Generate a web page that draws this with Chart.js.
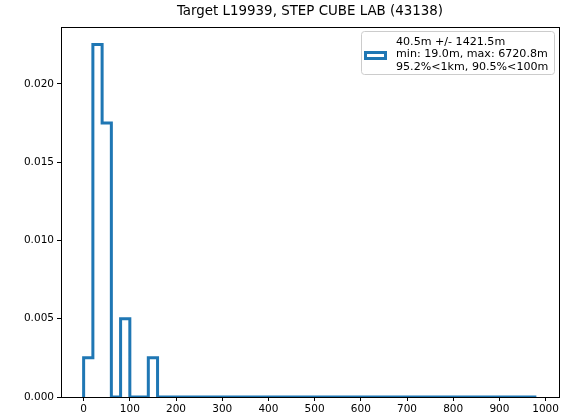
<!DOCTYPE html>
<html>
<head>
<meta charset="utf-8">
<script src="https://cdn.jsdelivr.net/npm/chart.js@4/dist/chart.umd.min.js"></script>
<style>
  html, body { margin: 0; padding: 0; background: #fff; }
  #wrap { width: 565px; height: 419px; }
</style>
</head>
<body>
<div id="wrap"><canvas id="canvas"></canvas></div>
<script>
/* Histogram data (density, bins of 20m; 160-980 all empty) */
const binEdges = [0, 20, 40, 60, 80, 100, 120, 140, 160, 980];
const density = [0.0025, 0.0225, 0.0175, 0, 0.005, 0, 0, 0.0025, 0];
const xTicks = [0, 100, 200, 300, 400, 500, 600, 700, 800, 900, 1000];
const yTicks = [0, 0.005, 0.01, 0.015, 0.02];
const titleText = "Target L19939, STEP CUBE LAB (43138)";
const legendLines = ["40.5m +/- 1421.5m", "min: 19.0m, max: 6720.8m", "95.2%<1km, 90.5%<100m"];

const blue = "#1f77b4";
const font = "DejaVu Sans";

/* Step outline points: start at base, then each bin's height */
const points = [{ x: binEdges[0], y: 0 }];
for (let i = 0; i < density.length; i++) {
  points.push({ x: binEdges[i], y: density[i] });
}
points.push({ x: binEdges[binEdges.length - 1], y: 0 });

/* Title over the axes, frame (all 4 spines) + legend box */
const extras = {
  id: "extras",
  afterDraw(chart) {
    const ctx = chart.ctx;
    const a = chart.chartArea;
    ctx.save();
    ctx.strokeStyle = "#000";
    ctx.lineWidth = 1;
    ctx.strokeRect(Math.round(a.left) + 0.5, Math.round(a.top) + 0.5,
      Math.round(a.right - a.left), Math.round(a.bottom - a.top));

    // title
    ctx.fillStyle = "#000";
    ctx.font = "13.4px '" + font + "'";
    ctx.textAlign = "center";
    ctx.textBaseline = "middle";
    ctx.fillText(titleText, (a.left + a.right) / 2, 12);

    // legend
    const bx = 361, by = 31, bw = 193, bh = 43;
    ctx.fillStyle = "rgba(255,255,255,0.8)";
    ctx.strokeStyle = "#cccccc";
    ctx.lineWidth = 1;
    ctx.beginPath();
    ctx.roundRect(bx + 0.5, by + 0.5, bw, bh, 3);
    ctx.fill();
    ctx.stroke();
    ctx.strokeStyle = blue;
    ctx.lineWidth = 3;
    ctx.strokeRect(365.5, 52.5, 20, 6);
    ctx.fillStyle = "#000";
    ctx.font = "11.1px '" + font + "'";
    ctx.textAlign = "left";
    legendLines.forEach((t, i) => {
      ctx.fillText(t, 396, 42 + i * 12.5);
    });
    ctx.restore();
  },
};

const ctx = document.getElementById("canvas").getContext("2d");
window.myChart = new Chart(ctx, {
  type: "line",
  data: {
    datasets: [
      {
        label: "hist",
        data: points,
        stepped: "before",
        borderColor: blue,
        borderWidth: 3,
        pointRadius: 0,
        fill: false,
        borderJoinStyle: "miter",
      },
    ],
  },
  options: {
    responsive: true,
    maintainAspectRatio: false,
    animation: false,
    layout: { padding: { left: 0, right: 6, top: 27, bottom: 0 } },
    plugins: {
      legend: { display: false },
      tooltip: { enabled: false },
      title: { display: false },
    },
    scales: {
      x: {
        type: "linear",
        min: -49,
        max: 1029,
        afterBuildTicks: (s) => { s.ticks = xTicks.map((v) => ({ value: v })); },
        afterFit: (s) => { s.height = 22; },
        grid: { drawOnChartArea: false, drawTicks: true, tickLength: 4, color: "#000" },
        border: { display: false },
        ticks: {
          color: "#000",
          padding: 2,
          maxRotation: 0,
          font: { family: font, size: 10.5 },
          callback: (v) => v,
        },
      },
      y: {
        min: 0,
        max: 0.023625,
        afterBuildTicks: (s) => { s.ticks = yTicks.map((v) => ({ value: v })); },
        afterFit: (s) => { s.width = 61; },
        grid: { drawOnChartArea: false, drawTicks: true, tickLength: 4, color: "#000" },
        border: { display: false },
        ticks: {
          color: "#000",
          padding: 3,
          font: { family: font, size: 10.5 },
          callback: (v) => v.toFixed(3),
        },
      },
    },
  },
  plugins: [extras],
});
</script>
</body>
</html>
